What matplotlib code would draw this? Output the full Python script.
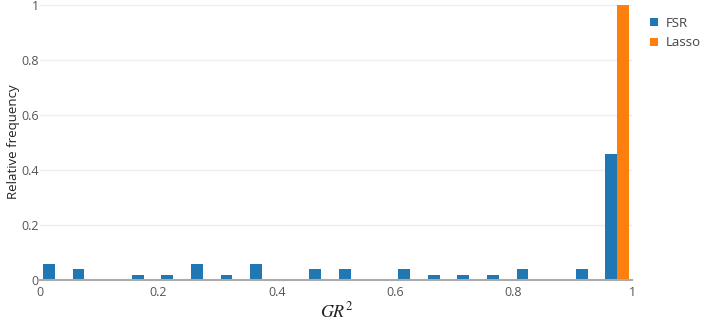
import numpy as np
import matplotlib.pyplot as plt

plt.rcParams['font.family'] = ['Open Sans', 'DejaVu Sans']
plt.rcParams['mathtext.fontset'] = 'stix'

# histogram bins (width 0.05) and relative frequencies
bin_edges = np.linspace(0, 1, 21)
fsr_freq = [0.06, 0.04, 0, 0.02, 0.02, 0.06, 0.02, 0.06, 0, 0.04,
            0.04, 0, 0.04, 0.02, 0.02, 0.02, 0.04, 0, 0.04, 0.46]
lasso_freq = [0] * 19 + [1.0]
series = [('FSR', fsr_freq, '#1f77b4'), ('Lasso', lasso_freq, '#ff7f0e')]

bin_w = 0.05
gap = 0.2
bar_w = bin_w * (1 - gap) / len(series)

fig = plt.figure(figsize=(7.06, 3.26), dpi=100)
ax = fig.add_axes([40 / 706, 46 / 326, 592 / 706, 275 / 326])

left = bin_edges[:-1] + bin_w * gap / 2
for i, (name, freq, color) in enumerate(series):
    ax.bar(left + i * bar_w, freq, width=bar_w, align='edge', color=color,
           label=name, zorder=3)

ax.set_xlim(0, 1)
ax.set_ylim(0, 1)
ax.set_xticks([0, 0.2, 0.4, 0.6, 0.8, 1])
ax.set_xticklabels(['0', '0.2', '0.4', '0.6', '0.8', '1'])
ax.set_yticks([0, 0.2, 0.4, 0.6, 0.8, 1])
ax.set_yticklabels(['0', '0.2', '0.4', '0.6', '0.8', '1'])
ax.tick_params(length=0, labelsize=9, colors='#555555')
ax.tick_params(axis='x', pad=4)
ax.tick_params(axis='y', pad=1)
ax.grid(axis='y', color='#eeeeee', linewidth=1, zorder=0)
for s in ['top', 'right', 'left']:
    ax.spines[s].set_visible(False)
ax.spines['bottom'].set_color('#aaaaaa')
ax.spines['bottom'].set_linewidth(1.5)
ax.spines['bottom'].set_zorder(4)

ax.set_xlabel('$GR^2$', fontsize=13, color='#222222', va='center')
ax.xaxis.set_label_coords(0.502, -0.116)
ax.set_ylabel('Relative frequency', fontsize=9.5, color='#222222', va='center')
ax.yaxis.set_label_coords(-0.0456, 0.502)

ax.legend(loc='upper left', bbox_to_anchor=(1.01, 1.0), frameon=False,
          fontsize=9.5, handlelength=0.6, handleheight=0.6, handletextpad=0.6,
          labelspacing=0.5, labelcolor='#444444')

fig.savefig('out.png', dpi=100)
